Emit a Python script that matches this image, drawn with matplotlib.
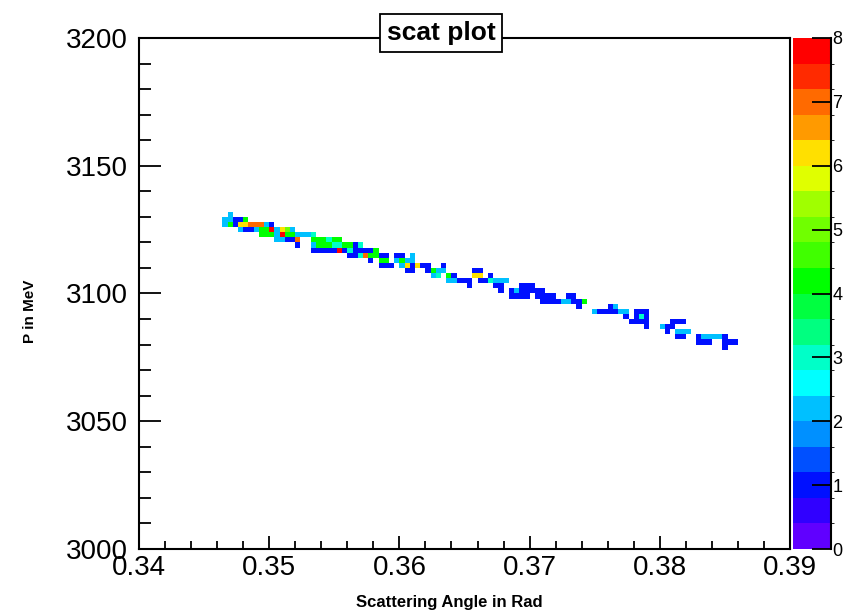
import matplotlib
matplotlib.use("Agg")
import matplotlib.pyplot as plt
from matplotlib.colors import ListedColormap, BoundaryNorm
import numpy as np

# filled cells of the 2D histogram: bin centre angle (rad), momentum (MeV), entries
angle = [
    0.3466, 0.3466,
    0.3470, 0.3470, 0.3470,
    0.3474, 0.3474,
    0.3478, 0.3478, 0.3478,
    0.3482, 0.3482, 0.3482,
    0.3486, 0.3486,
    0.3490, 0.3490,
    0.3494, 0.3494, 0.3494,
    0.3498, 0.3498, 0.3498,
    0.3502, 0.3502, 0.3502,
    0.3506, 0.3506, 0.3506,
    0.3510, 0.3510, 0.3510,
    0.3514, 0.3514, 0.3514,
    0.3518, 0.3518, 0.3518,
    0.3522, 0.3522, 0.3522,
    0.3526,
    0.3530,
    0.3534, 0.3534, 0.3534, 0.3534,
    0.3538, 0.3538, 0.3538,
    0.3542, 0.3542, 0.3542,
    0.3546, 0.3546, 0.3546,
    0.3550, 0.3550, 0.3550,
    0.3554, 0.3554, 0.3554,
    0.3558, 0.3558,
    0.3562, 0.3562, 0.3562,
    0.3566, 0.3566, 0.3566,
    0.3570, 0.3570, 0.3570,
    0.3574, 0.3574,
    0.3578, 0.3578, 0.3578,
    0.3582, 0.3582,
    0.3586, 0.3586, 0.3586,
    0.3590, 0.3590, 0.3590,
    0.3594,
    0.3598, 0.3598,
    0.3602, 0.3602, 0.3602,
    0.3606, 0.3606, 0.3606,
    0.3610, 0.3610, 0.3610, 0.3610,
    0.3614,
    0.3618,
    0.3622, 0.3622,
    0.3626, 0.3626,
    0.3630, 0.3630,
    0.3634, 0.3634,
    0.3638, 0.3638,
    0.3642, 0.3642,
    0.3646,
    0.3650,
    0.3654, 0.3654,
    0.3658, 0.3658,
    0.3662, 0.3662, 0.3662,
    0.3666,
    0.3670, 0.3670,
    0.3674, 0.3674,
    0.3678, 0.3678, 0.3678,
    0.3682,
    0.3686, 0.3686,
    0.3690, 0.3690,
    0.3694, 0.3694, 0.3694,
    0.3698, 0.3698, 0.3698,
    0.3702, 0.3702,
    0.3706, 0.3706,
    0.3710, 0.3710, 0.3710,
    0.3714, 0.3714,
    0.3718, 0.3718,
    0.3722,
    0.3726,
    0.3730, 0.3730,
    0.3734, 0.3734,
    0.3738, 0.3738,
    0.3742,
    0.3750,
    0.3754,
    0.3758,
    0.3762, 0.3762,
    0.3766, 0.3766,
    0.3770,
    0.3774, 0.3774,
    0.3778,
    0.3782, 0.3782, 0.3782,
    0.3786, 0.3786, 0.3786,
    0.3790, 0.3790, 0.3790, 0.3790,
    0.3802,
    0.3806, 0.3806,
    0.3810, 0.3810,
    0.3814, 0.3814, 0.3814,
    0.3818, 0.3818, 0.3818,
    0.3822,
    0.3830, 0.3830,
    0.3834, 0.3834,
    0.3838, 0.3838,
    0.3842,
    0.3846,
    0.3850, 0.3850, 0.3850,
    0.3854,
    0.3858,
]
momentum = [
    3129, 3127,
    3131, 3129, 3127,
    3129, 3127,
    3129, 3127, 3125,
    3129, 3127, 3125,
    3127, 3125,
    3127, 3125,
    3127, 3125, 3123,
    3127, 3125, 3123,
    3127, 3125, 3123,
    3125, 3123, 3121,
    3125, 3123, 3121,
    3125, 3123, 3121,
    3125, 3123, 3121,
    3123, 3121, 3119,
    3123,
    3123,
    3123, 3121, 3119, 3117,
    3121, 3119, 3117,
    3121, 3119, 3117,
    3121, 3119, 3117,
    3121, 3119, 3117,
    3121, 3119, 3117,
    3119, 3117,
    3119, 3117, 3115,
    3119, 3117, 3115,
    3119, 3117, 3115,
    3117, 3115,
    3117, 3115, 3113,
    3117, 3115,
    3115, 3113, 3111,
    3115, 3113, 3111,
    3111,
    3115, 3113,
    3115, 3113, 3111,
    3113, 3111, 3109,
    3115, 3113, 3111, 3109,
    3111,
    3111,
    3111, 3109,
    3109, 3107,
    3109, 3107,
    3111, 3109,
    3107, 3105,
    3107, 3105,
    3105,
    3105,
    3105, 3103,
    3109, 3107,
    3109, 3107, 3105,
    3105,
    3107, 3105,
    3105, 3103,
    3105, 3103, 3101,
    3105,
    3101, 3099,
    3101, 3099,
    3103, 3101, 3099,
    3103, 3101, 3099,
    3103, 3101,
    3101, 3099,
    3101, 3099, 3097,
    3099, 3097,
    3099, 3097,
    3097,
    3097,
    3099, 3097,
    3099, 3097,
    3097, 3095,
    3097,
    3093,
    3093,
    3093,
    3095, 3093,
    3095, 3093,
    3093,
    3093, 3091,
    3089,
    3093, 3091, 3089,
    3093, 3091, 3089,
    3093, 3091, 3089, 3087,
    3087,
    3087, 3085,
    3089, 3087,
    3089, 3085, 3083,
    3089, 3085, 3083,
    3085,
    3083, 3081,
    3083, 3081,
    3083, 3081,
    3083,
    3083,
    3083, 3081, 3079,
    3081,
    3081,
]
counts = [
    2, 2,
    2, 2, 4,
    1, 1,
    1, 6, 2,
    4, 6, 1,
    7, 1,
    7, 2,
    7, 4, 4,
    2, 4, 4,
    1, 8, 4,
    2, 2, 2,
    6, 8, 2,
    5, 4, 1,
    2, 4, 1,
    2, 7, 1,
    2,
    2,
    3, 4, 2, 1,
    4, 4, 1,
    4, 4, 1,
    3, 4, 1,
    4, 3, 1,
    4, 3, 8,
    4, 1,
    4, 3, 1,
    1, 1, 1,
    3, 1, 3,
    1, 7,
    1, 4, 1,
    4, 4,
    1, 4, 1,
    1, 4, 1,
    1,
    1, 2,
    1, 4, 2,
    2, 6, 1,
    2, 2, 1, 1,
    6,
    1,
    1, 1,
    4, 2,
    2, 3,
    1, 2,
    4, 2,
    1, 2,
    1,
    1,
    1, 1,
    1, 6,
    1, 6, 1,
    1,
    1, 3,
    2, 1,
    2, 1, 1,
    2,
    1, 1,
    2, 1,
    1, 1, 1,
    1, 1, 1,
    1, 1,
    1, 1,
    1, 1, 1,
    1, 1,
    1, 1,
    1,
    2,
    1, 2,
    1, 1,
    1, 1,
    4,
    2,
    1,
    1,
    1, 1,
    2, 1,
    2,
    2, 1,
    1,
    1, 1, 1,
    1, 3, 1,
    1, 1, 1, 1,
    2,
    1, 1,
    1, 1,
    1, 2, 1,
    1, 2, 1,
    2,
    1, 1,
    2, 1,
    2, 1,
    2,
    2,
    1, 1, 1,
    1,
    1,
]

palette = ['#6000ff', '#3000ff', '#0010ff', '#0050ff', '#0090ff',
           '#00c0ff', '#00ffff', '#00ffc8', '#00ff80', '#00ff40',
           '#00ff00', '#40ff00', '#70ff00', '#a0ff00', '#e0ff00',
           '#ffe000', '#ff9a00', '#ff6a00', '#ff2a00', '#ff0000']
cmap = ListedColormap(palette)
norm = BoundaryNorm(np.linspace(0, 8, 21), cmap.N)

plt.rcParams['font.family'] = ['Liberation Sans', 'DejaVu Sans']

W, H = 863, 616
fig = plt.figure(figsize=(W / 100, H / 100), dpi=100)
ax = fig.add_axes([139 / W, 67 / H, 651 / W, 511 / H])
cax = fig.add_axes([793 / W, 67 / H, 38 / W, 511 / H])

h = ax.hist2d(angle, momentum, bins=[125, 100], range=[[0.34, 0.39], [3000, 3200]],
              weights=counts, cmin=0.5, cmap=cmap, norm=norm)

ax.set_xlim(0.34, 0.39)
ax.set_ylim(3000, 3200)
ax.set_xticks(np.arange(0.34, 0.3901, 0.01))
ax.set_xticks(np.arange(0.34, 0.3901, 0.002), minor=True)
ax.set_xticklabels(['%.2f' % v for v in np.arange(0.34, 0.3901, 0.01)])
ax.set_yticks(np.arange(3000, 3201, 50))
ax.set_yticks(np.arange(3000, 3201, 10), minor=True)
ax.tick_params(top=False, right=False, which='both', direction='in', width=1.3,
               labelsize=20)
ax.tick_params(axis='x', which='major', length=9.5, pad=4)
ax.tick_params(axis='x', which='minor', length=6)
ax.tick_params(axis='y', which='major', length=16, pad=8)
ax.tick_params(axis='y', which='minor', length=8.5)
for s in ax.spines.values():
    s.set_linewidth(1.5)

cb = fig.colorbar(h[3], cax=cax, ticks=range(9))
cb.outline.set_visible(False)
cax.tick_params(direction='in', length=14, width=1.3, labelsize=13, pad=1)
cax.plot([1, 1], [0, 1], transform=cax.transAxes, color='black', lw=1.5, clip_on=False)

fig.text(441 / W, 1 - 33 / H, 'scat plot', ha='center', va='center', fontsize=19,
         fontweight='bold', zorder=10,
         bbox=dict(boxstyle='square,pad=0.25', fc='white', ec='black', lw=1.3))
fig.text(30 / W, 1 - 311 / H, 'P in MeV', rotation=90, ha='center', va='center',
         fontsize=11, fontweight='bold')
fig.text(449 / W, 1 - 603 / H, 'Scattering Angle in Rad', ha='center', va='center',
         fontsize=12, fontweight='bold')

fig.savefig('out.png', dpi=100)
